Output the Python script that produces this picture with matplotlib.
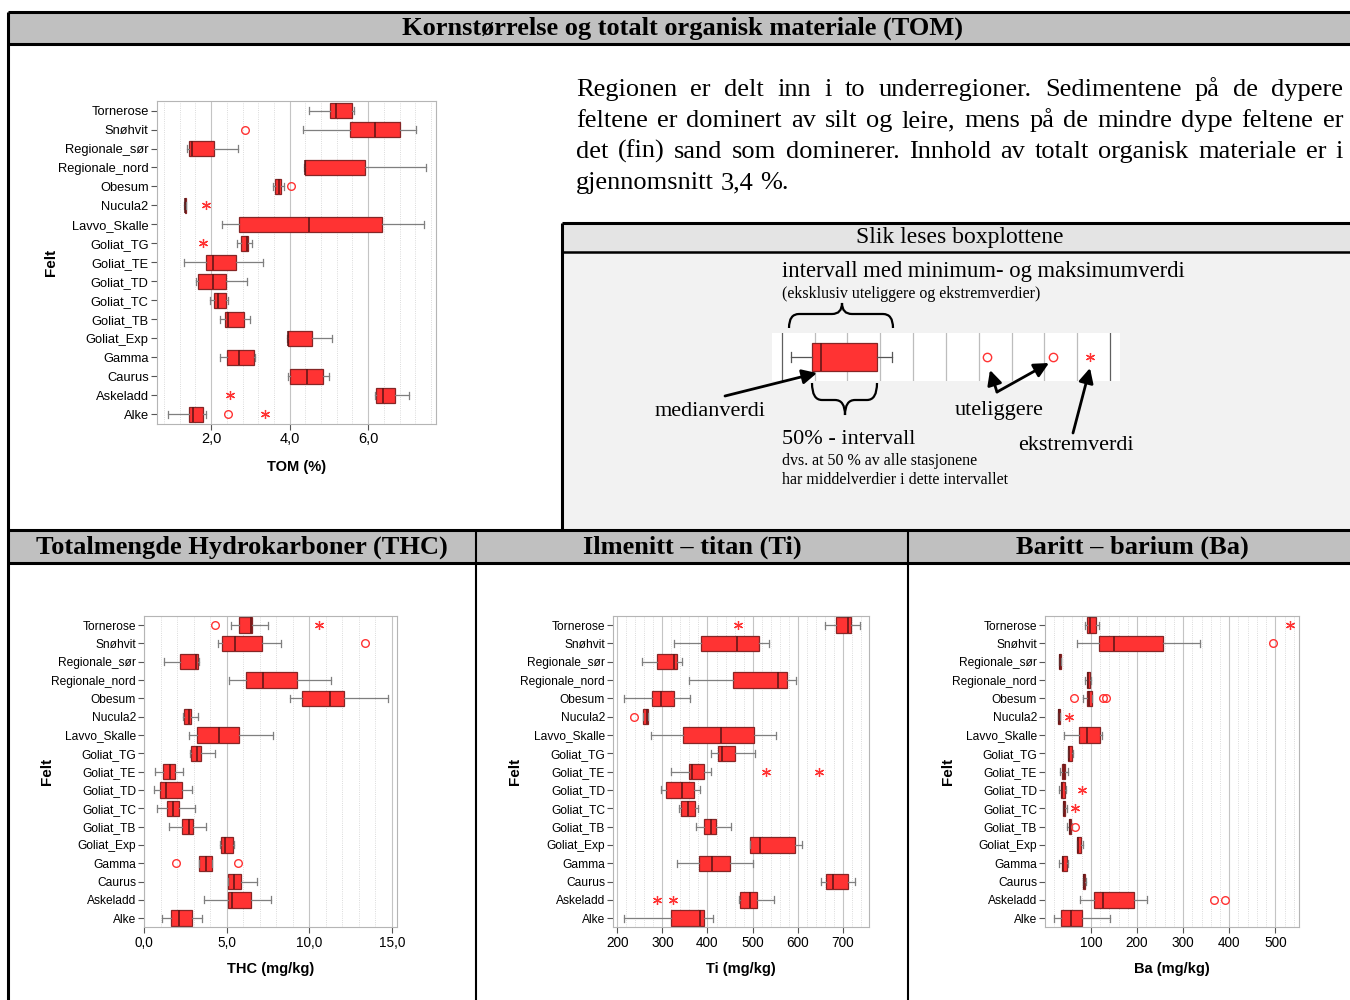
import matplotlib
matplotlib.use('Agg')
import matplotlib.pyplot as plt
from matplotlib.font_manager import fontManager
from matplotlib.patches import Rectangle, PathPatch
from matplotlib.path import Path
from matplotlib.ticker import MultipleLocator, FuncFormatter


felt = ['Tornerose', 'Snøhvit', 'Regionale_sør', 'Regionale_nord', 'Obesum',
        'Nucula2', 'Lavvo_Skalle', 'Goliat_TG', 'Goliat_TE', 'Goliat_TD',
        'Goliat_TC', 'Goliat_TB', 'Goliat_Exp', 'Gamma', 'Caurus', 'Askeladd',
        'Alke']

# TOM (%)
tom_wlo = [4.49, 4.34, 1.39, 4.37, 3.57, 1.32, 2.28, 2.66, 1.31, 1.62, 1.97, 2.23, 3.93, 2.23, 3.97, 6.18, 0.90]
tom_q1 = [5.02, 5.53, 1.43, 4.40, 3.62, 1.33, 2.72, 2.77, 1.86, 1.66, 2.08, 2.36, 3.95, 2.41, 4.00, 6.20, 1.43]
tom_med = [5.19, 6.18, 1.52, 4.40, 3.74, 1.34, 4.49, 2.92, 2.04, 2.04, 2.18, 2.42, 3.97, 2.72, 4.44, 6.38, 1.54]
tom_q3 = [5.60, 6.80, 2.08, 5.93, 3.77, 1.36, 6.35, 2.94, 2.63, 2.39, 2.37, 2.83, 4.57, 3.09, 4.84, 6.69, 1.79]
tom_whi = [5.63, 7.21, 2.68, 7.47, 3.85, 1.36, 7.43, 3.03, 3.31, 2.91, 2.42, 3.00, 5.09, 3.11, 5.01, 7.04, 1.86]
tom_out = [[], [2.86], [], [], [4.04], [], [], [], [], [], [], [], [], [], [], [], [2.42]]
tom_ext = [[], [], [], [], [], [1.87], [], [1.78], [], [], [], [], [], [], [], [2.49], [3.37]]

# THC (mg/kg)
thc_wlo = [5.28, 4.44, 1.21, 5.14, 8.83, 2.32, 2.72, 2.80, 0.63, 0.60, 0.75, 1.51, 4.62, 3.33, 5.08, 3.63, 1.09]
thc_q1 = [5.75, 4.70, 2.18, 6.17, 9.56, 2.42, 3.21, 2.84, 1.15, 0.93, 1.35, 2.30, 4.66, 3.33, 5.10, 5.10, 1.59]
thc_med = [6.47, 5.50, 3.15, 7.20, 11.25, 2.70, 4.50, 3.21, 1.55, 1.33, 1.75, 2.70, 4.88, 3.75, 5.44, 5.34, 2.12]
thc_q3 = [6.53, 7.14, 3.23, 9.25, 12.10, 2.86, 5.73, 3.45, 1.88, 2.28, 2.12, 2.94, 5.38, 4.11, 5.89, 6.47, 2.92]
thc_whi = [7.50, 8.31, 3.33, 11.35, 14.78, 3.23, 7.80, 4.29, 2.32, 2.90, 3.08, 3.77, 5.42, 4.11, 6.83, 7.66, 3.51]
thc_out = [[4.27], [13.37], [], [], [], [], [], [], [], [], [], [], [], [1.92, 5.71], [], [], []]
thc_ext = [[10.58], [], [], [], [], [], [], [], [], [], [], [], [], [], [], [], []]

# Ti (mg/kg)
ti_wlo = [660, 326, 254, 358, 214, 258, 274, 407, 318, 297, 337, 374, 495, 333, 652, 471, 215]
ti_q1 = [685, 386, 289, 456, 276, 258, 346, 423, 360, 309, 342, 392, 495, 382, 662, 473, 320]
ti_med = [711, 466, 326, 556, 297, 265, 431, 433, 366, 343, 356, 407, 517, 410, 679, 494, 383]
ti_q3 = [718, 514, 333, 576, 326, 268, 504, 460, 392, 369, 372, 419, 595, 451, 712, 510, 393]
ti_whi = [738, 537, 344, 597, 362, 268, 553, 506, 407, 384, 378, 452, 610, 502, 728, 548, 412]
ti_out = [[], [], [], [], [], [238], [], [], [], [], [], [], [], [], [], [], []]
ti_ext = [[467], [], [], [], [], [], [], [], [530, 648], [], [], [], [], [], [], [289, 324], []]

# Ba (mg/kg)
ba_wlo = [88, 69, 31, 88, 82, 28, 41, 50, 33, 31, 39, 49, 69, 30, 83, 77, 20]
ba_q1 = [92, 117, 31, 91, 92, 28, 75, 51, 38, 35, 40, 52, 70, 37, 83, 106, 36]
ba_med = [98, 151, 33, 93, 95, 30, 92, 52, 41, 38, 41, 54, 72, 40, 86, 127, 56]
ba_q3 = [112, 256, 36, 97, 102, 32, 119, 58, 44, 44, 44, 57, 78, 47, 88, 193, 80]
ba_whi = [118, 337, 36, 101, 102, 32, 125, 62, 50, 46, 47, 58, 82, 50, 89, 222, 141]
ba_out = [[], [496], [], [], [63, 126, 132], [], [], [], [], [], [], [65], [], [], [], [366, 391], []]
ba_ext = [[531], [], [], [], [], [52], [], [], [], [80], [66], [], [], [], [], [], []]

# example box in the reading guide
guide_stats = dict(whislo=0.27, q1=0.92, med=1.20, q3=2.91, whishi=3.37, fliers=[6.26, 8.26])
guide_ext = [9.39]

paragraph = [
    'Regionen er delt inn i to underregioner. Sedimentene på de dypere',
    'feltene er dominert av silt og leire, mens på de mindre dype feltene er',
    'det (fin) sand som dominerer. Innhold av totalt organisk materiale er i',
    'gjennomsnitt 3,4 %.',
]


W, H = 1350, 1000
SERIF = 'Liberation Serif'
installed = {f.name for f in fontManager.ttflist}
NARROW = 'Liberation Sans Narrow' if 'Liberation Sans Narrow' in installed else 'Liberation Sans'
SHRINK = 1.0 if NARROW == 'Liberation Sans Narrow' else 0.88
plt.rcParams['font.family'] = [NARROW, 'DejaVu Sans']

RED = '#ff3333'
EDGE = '#852626'
MEDIAN = '#5a1414'
WHISK = '#7f7f7f'
STAR = (6, 2, 0)

fig = plt.figure(figsize=(W / 100, H / 100), dpi=100)

# pixel-space layers behind and in front of the charts
bg = fig.add_axes([0, 0, 1, 1], zorder=0)
fg = fig.add_axes([0, 0, 1, 1], zorder=5)
for lay in (bg, fg):
    lay.set_xlim(0, W)
    lay.set_ylim(H, 0)
    lay.axis('off')


def box(x0, y0, x1, y1, color):
    bg.add_patch(Rectangle((x0, y0), x1 - x0, y1 - y0, fc=color, ec='none'))


def line(xs, ys, lw=2.2):
    bg.plot(xs, ys, color='black', lw=lw, solid_capstyle='butt')


def brace(x0, x1, xm, y_end, y_bar, y_tip, r=10):
    verts = [(x0, y_end), (x0, y_bar), (x0 + r, y_bar),
             (xm - r, y_bar), (xm, y_bar), (xm, y_tip),
             (xm, y_bar), (xm + r, y_bar),
             (x1 - r, y_bar), (x1, y_bar), (x1, y_end)]
    codes = [Path.MOVETO, Path.CURVE3, Path.CURVE3,
             Path.LINETO, Path.CURVE3, Path.CURVE3,
             Path.CURVE3, Path.CURVE3,
             Path.LINETO, Path.CURVE3, Path.CURVE3]
    fg.add_patch(PathPatch(Path(verts, codes), fc='none', ec='black', lw=1.6))


def arrow(start, end):
    fg.annotate('', xy=end, xytext=start,
                arrowprops=dict(arrowstyle='-|>', color='black', lw=2,
                                mutation_scale=22, shrinkA=0, shrinkB=0))


# section frames
box(8, 12, W, 44, '#c0c0c0')
box(8, 530, W, 563, '#c0c0c0')
box(562, 223, W, 252, '#e4e4e4')
box(562, 252, W, 530, '#f2f2f2')
line([8, W], [12, 12])
line([8, W], [44, 44])
line([8, W], [530, 530])
line([8, W], [563, 563])
line([8, 8], [12, H])
line([562, W], [223, 223])
line([562, W], [252, 252], lw=1.8)
line([562, 562], [223, 530])
line([476, 476], [530, H], lw=1.5)
line([908, 908], [530, H], lw=1.5)

head = dict(family=SERIF, fontsize=19, fontweight='bold', ha='center', va='center')
bg.text(683, 28, 'Kornstørrelse og totalt organisk materiale (TOM)', **head)
bg.text(242, 547, 'Totalmengde Hydrokarboner (THC)', **head)
bg.text(692, 547, 'Ilmenitt – titan (Ti)', **head)
bg.text(1132, 547, 'Baritt – barium (Ba)', **head)

# justified paragraph
renderer = fig.canvas.get_renderer()
px, px_right, base, lead, psize = 576, 1343, 96, 31, 19
for i, row in enumerate(paragraph):
    words = row.split()
    texts = [bg.text(0, base + i * lead, w, family=SERIF, fontsize=psize, va='baseline')
             for w in words]
    widths = [t.get_window_extent(renderer).width for t in texts]
    if i < len(paragraph) - 1:
        gap = (px_right - px - sum(widths)) / (len(words) - 1)
    else:
        gap = psize * 100 / 72 * 0.25
    x = px
    for t, w in zip(texts, widths):
        t.set_x(x)
        x += w + gap

# reading guide
bg.text(960, 238, 'Slik leses boxplottene', family=SERIF, fontsize=17,
        ha='center', va='center')
bg.text(782, 271, 'intervall med minimum- og maksimumverdi', family=SERIF,
        fontsize=16.3, va='center')
bg.text(782, 294, '(eksklusiv uteliggere og ekstremverdier)', family=SERIF,
        fontsize=11.5, va='center')
bg.text(655, 411, 'medianverdi', family=SERIF, fontsize=16, va='center')
bg.text(955, 411, 'uteliggere', family=SERIF, fontsize=16, va='center')
bg.text(1018, 446, 'ekstremverdi', family=SERIF, fontsize=16, va='center')
bg.text(782, 439, '50% - intervall', family=SERIF, fontsize=16, va='center')
bg.text(782, 461, 'dvs. at 50 % av alle stasjonene', family=SERIF,
        fontsize=11.5, va='center')
bg.text(782, 480, 'har middelverdier i dette intervallet', family=SERIF,
        fontsize=11.5, va='center')

brace(789, 893, 842, 328, 314, 303)
brace(812, 877, 845, 383, 400, 415)
arrow((725, 396), (817, 373))
arrow((997, 392), (990, 370))
arrow((997, 392), (1049, 363))
arrow((1073, 433), (1090, 368))

guide = fig.add_axes([771.6 / W, 1 - 381 / H, 348.4 / W, 48 / H], zorder=1)
guide.bxp([guide_stats], positions=[0], orientation='horizontal', widths=0.59,
          capwidths=0.22, patch_artist=True, manage_ticks=False,
          boxprops=dict(facecolor=RED, edgecolor=EDGE, lw=0.9),
          medianprops=dict(color=MEDIAN, lw=1.1),
          whiskerprops=dict(color='#555555', lw=0.9),
          capprops=dict(color='#555555', lw=0.9),
          flierprops=dict(marker='o', mfc='none', mec=RED, ms=6, mew=1))
guide.plot(guide_ext, [0] * len(guide_ext), ls='none', marker=STAR, ms=6.5, mec=RED, mew=0.9)
for g in range(11):
    guide.axvline(g, color='#606060' if g in (0, 10) else '#bdbdbd', lw=0.9, zorder=0)
guide.set_xlim(-0.307, 10.30)
guide.set_ylim(-0.5, 0.5)
guide.set_xticks([])
guide.set_yticks([])
for s in guide.spines.values():
    s.set_visible(False)


def comma(v, pos):
    return f'{v:.1f}'.replace('.', ',')


def whole(v, pos):
    return f'{v:.0f}'


def boxpanel(rect, wlo, q1, med, q3, whi, out, ext, xlim, major, minor, fmt, xlabel, fs):
    ax = fig.add_axes(rect, zorder=1)
    stats = [dict(whislo=a, q1=b, med=c, q3=d, whishi=e, fliers=f)
             for a, b, c, d, e, f in zip(wlo, q1, med, q3, whi, out)]
    ax.bxp(stats, positions=range(len(felt)), orientation='horizontal', widths=0.84,
           capwidths=0.38, patch_artist=True, manage_ticks=False,
           boxprops=dict(facecolor=RED, edgecolor=EDGE, lw=0.9),
           medianprops=dict(color=MEDIAN, lw=1.1),
           whiskerprops=dict(color=WHISK, lw=0.9),
           capprops=dict(color=WHISK, lw=0.9),
           flierprops=dict(marker='o', mfc='none', mec=RED, ms=5.5, mew=1))
    for i, vals in enumerate(ext):
        if vals:
            ax.plot(vals, [i] * len(vals), ls='none', marker=STAR, ms=6.5, mec=RED, mew=0.9)

    ax.set_yticks(range(len(felt)), felt)
    ax.set_ylim(len(felt) - 0.5, -0.5)
    ax.set_xlim(*xlim)
    ax.xaxis.set_major_locator(MultipleLocator(major))
    ax.xaxis.set_minor_locator(MultipleLocator(minor))
    ax.xaxis.set_major_formatter(FuncFormatter(fmt))
    ax.set_axisbelow(True)
    ax.grid(axis='x', which='major', color='#c4c4c4', lw=0.8)
    ax.grid(axis='x', which='minor', color='#cfcfcf', lw=0.6, ls=':')
    ax.tick_params(which='major', length=4, color='#555555', pad=2)
    ax.tick_params(axis='y', labelsize=fs * SHRINK)
    ax.tick_params(axis='x', labelsize=fs)
    ax.tick_params(which='minor', length=0)
    for s in ax.spines.values():
        s.set_color('#b5b5b5')

    ax.set_xlabel(xlabel, family='Liberation Sans', fontsize=10.5, fontweight='bold')
    ax.xaxis.set_label_coords(0.5, -0.111)
    ax.set_ylabel('Felt', family='Liberation Sans', fontsize=11, fontweight='bold')
    ax.yaxis.set_label_coords(-0.355, 0.5)
    return ax


boxpanel([157 / W, 1 - 424 / H, 279 / W, 323 / H],
         tom_wlo, tom_q1, tom_med, tom_q3, tom_whi, tom_out, tom_ext,
         (0.62, 7.73), 2, 0.4, comma, 'TOM (%)', 10.5)
boxpanel([144.3 / W, 1 - 927.3 / H, 253 / W, 311.3 / H],
         thc_wlo, thc_q1, thc_med, thc_q3, thc_whi, thc_out, thc_ext,
         (0, 15.34), 5, 1, comma, 'THC (mg/kg)', 9.8)
boxpanel([613.3 / W, 1 - 927.3 / H, 256 / W, 311.3 / H],
         ti_wlo, ti_q1, ti_med, ti_q3, ti_whi, ti_out, ti_ext,
         (191, 759), 100, 20, whole, 'Ti (mg/kg)', 9.8)
boxpanel([1045.3 / W, 1 - 927.3 / H, 254 / W, 311.3 / H],
         ba_wlo, ba_q1, ba_med, ba_q3, ba_whi, ba_out, ba_ext,
         (1, 552), 100, 20, whole, 'Ba (mg/kg)', 9.8)

fig.savefig('out.png', dpi=100)
